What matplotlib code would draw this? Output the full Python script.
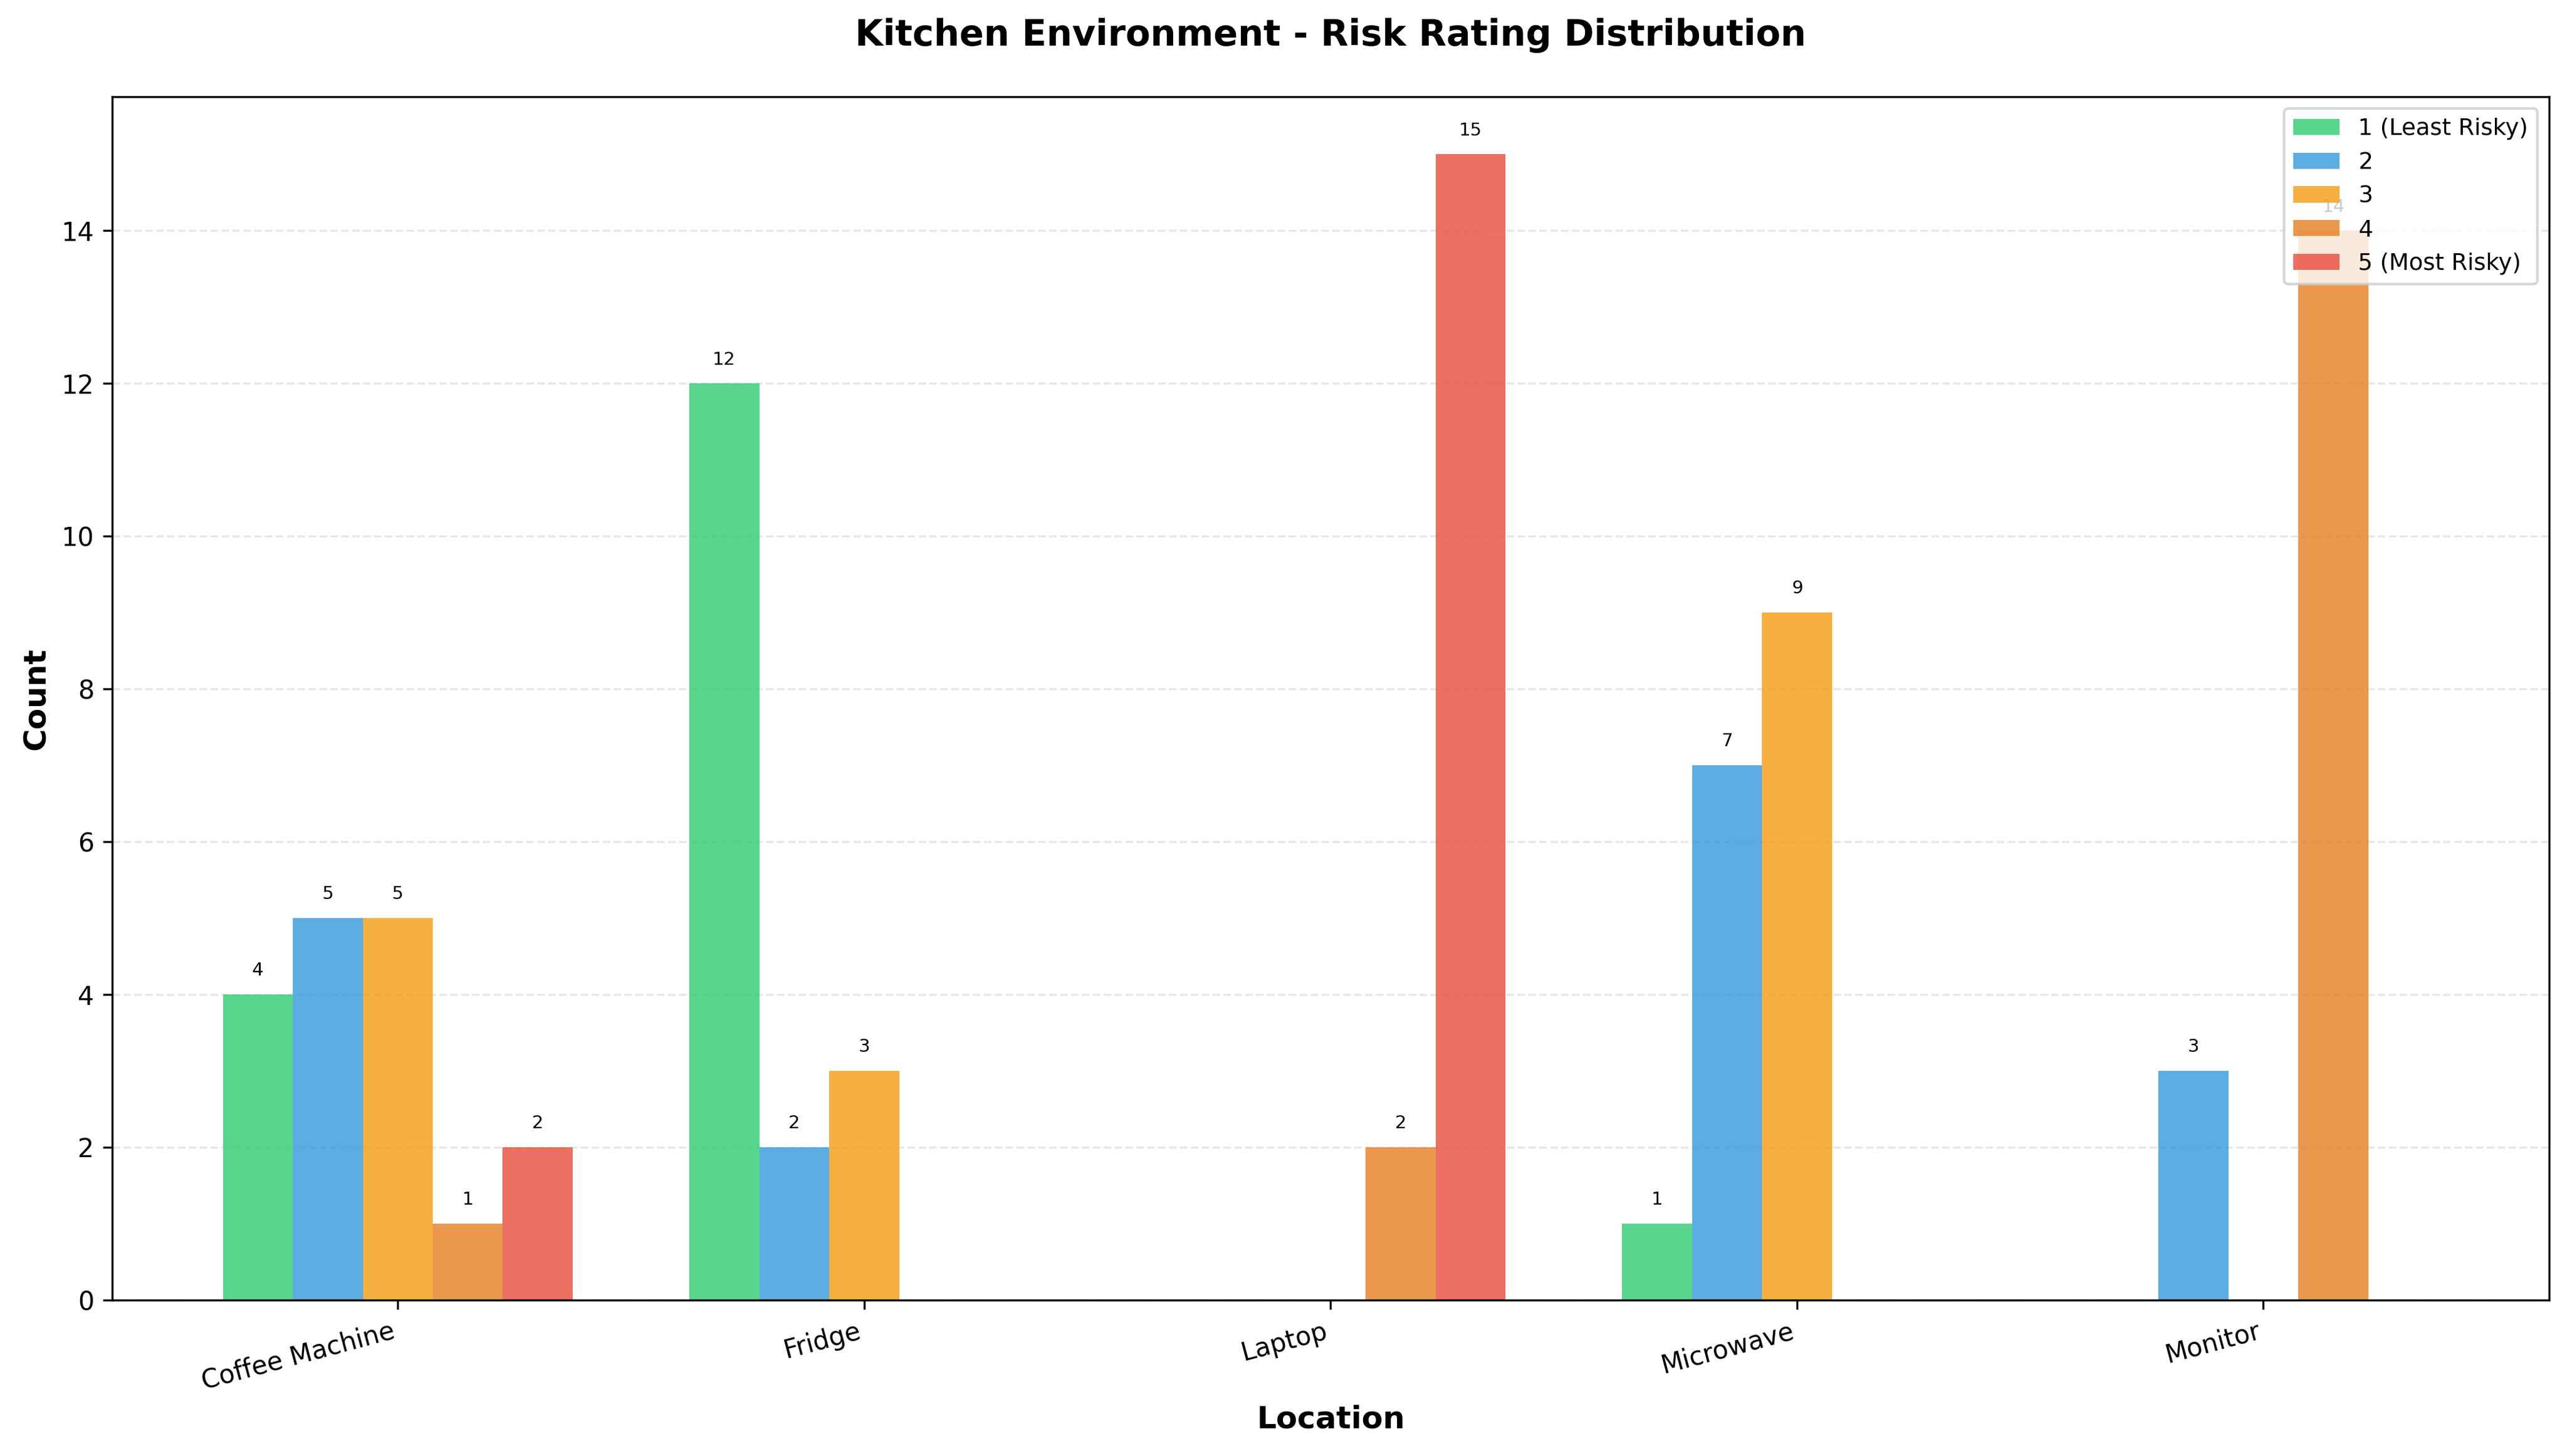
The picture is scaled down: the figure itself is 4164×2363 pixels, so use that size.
#!/usr/bin/env python3

import numpy as np
import matplotlib.pyplot as plt


locations = ["Coffee Machine", "Fridge", "Laptop", "Microwave", "Monitor"]
rating_labels = ["1 (Least Risky)", "2", "3", "4", "5 (Most Risky)"]
rating_1 = [4, 12, 0, 1, 0]
rating_2 = [5, 2, 0, 7, 3]
rating_3 = [5, 3, 0, 9, 0]
rating_4 = [1, 0, 2, 0, 14]
rating_5 = [2, 0, 15, 0, 0]

colors = ["#2ecc71", "#3498db", "#f39c12", "#e67e22", "#e74c3c"]


def main():
    series = [rating_1, rating_2, rating_3, rating_4, rating_5]
    x = np.arange(len(locations))
    width = 0.15

    fig, ax = plt.subplots(figsize=(13.88, 7.877))

    for i, (values, label, color) in enumerate(zip(series, rating_labels, colors)):
        pos = x + (i - 2) * width
        ax.bar(pos, values, width, label=label, color=color, alpha=0.8)
        for xp, v in zip(pos, values):
            if v > 0:
                ax.text(xp, v + 0.2, str(v), ha="center", va="bottom", fontsize=7)

    ax.set_xlabel("Location", fontsize=12, fontweight="bold")
    ax.set_ylabel("Count", fontsize=12, fontweight="bold")
    ax.set_title("Kitchen Environment - Risk Rating Distribution",
                 fontsize=14, fontweight="bold", pad=20)
    ax.set_xticks(x)
    ax.set_xticklabels(locations, rotation=15, ha="right")
    ax.grid(axis="y", alpha=0.3, linestyle="--")
    ax.set_axisbelow(True)
    ax.legend(loc="upper right", fontsize=9)

    fig.tight_layout(pad=0.7)
    plt.savefig("out.png", dpi=300)
    plt.close()


if __name__ == "__main__":
    main()
